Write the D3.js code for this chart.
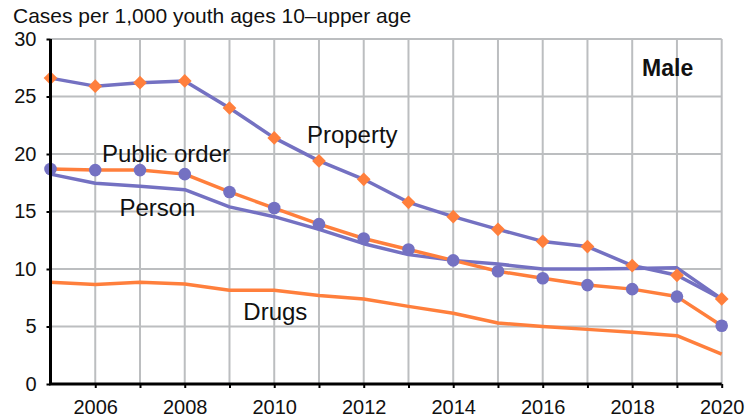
<!DOCTYPE html>
<html>
<head>
<meta charset="utf-8">
<script src="https://cdn.jsdelivr.net/npm/d3@7"></script>
<style>
  html, body { margin: 0; padding: 0; background: #fff; }
  svg { display: block; font-family: "Liberation Sans", Arial, Helvetica, sans-serif; }
</style>
</head>
<body>
<svg id="chart" width="756" height="419"></svg>
<script>
const years = [2005, 2006, 2007, 2008, 2009, 2010, 2011, 2012, 2013, 2014, 2015, 2016, 2017, 2018, 2019, 2020];
const property =    [26.6, 25.9, 26.2, 26.35, 24.0, 21.4, 19.4, 17.8, 15.8, 14.55, 13.45, 12.4, 11.95, 10.3, 9.45, 7.4];
const publicOrder = [18.7, 18.6, 18.6, 18.25, 16.7, 15.3, 13.9, 12.65, 11.7, 10.75, 9.8, 9.2, 8.6, 8.25, 7.6, 5.07];
const person =      [18.25, 17.45, 17.2, 16.9, 15.4, 14.55, 13.45, 12.2, 11.25, 10.75, 10.43, 10.0, 10.0, 10.05, 10.1, 7.4];
const drugs =       [8.85, 8.65, 8.85, 8.7, 8.15, 8.15, 7.7, 7.4, 6.75, 6.15, 5.3, 5.0, 4.75, 4.5, 4.2, 2.6];
const yTicks = [0, 5, 10, 15, 20, 25, 30];
const xTickLabels = [2006, 2008, 2010, 2012, 2014, 2016, 2018, 2020];
const titleText = "Cases per 1,000 youth ages 10\u2013upper age";
const panelLabel = "Male";
const seriesLabels = [
  { text: "Property", year: 2010.73, value: 20.93 },
  { text: "Public order", year: 2006.15, value: 19.33 },
  { text: "Person", year: 2006.54, value: 14.6 },
  { text: "Drugs", year: 2009.31, value: 5.57 }
];

const PURPLE = "#7471c2";
const ORANGE = "#ff7f3c";
const GRID = "#bcbec0";

const svg = d3.select("#chart");
const mLeft = 50.5, mRight = 721.7, mTop = 39, mBottom = 384;
const x = d3.scaleLinear().domain([2005, 2020]).range([mLeft, mRight]);
const y = d3.scaleLinear().domain([0, 30]).range([mBottom, mTop]);

// grid
const g = svg.append("g");
g.selectAll("line.v").data(years.slice(1)).enter().append("line")
  .attr("x1", d => x(d)).attr("x2", d => x(d))
  .attr("y1", y(0)).attr("y2", y(30))
  .attr("stroke", GRID).attr("stroke-width", 2);
g.selectAll("line.h").data(yTicks.slice(1)).enter().append("line")
  .attr("x1", x(2005)).attr("x2", x(2020))
  .attr("y1", d => y(d)).attr("y2", d => y(d))
  .attr("stroke", GRID).attr("stroke-width", 2);

// title
svg.append("text").attr("x", 13).attr("y", 23)
  .attr("font-size", 21).attr("fill", "#111").text(titleText);

// lines
const line = vals => d3.line().x((d, i) => x(years[i])).y(d => y(d))(vals);
const lines = [
  { vals: drugs, color: ORANGE },
  { vals: person, color: PURPLE },
  { vals: publicOrder, color: ORANGE },
  { vals: property, color: PURPLE }
];
svg.selectAll("path.series").data(lines).enter().append("path")
  .attr("d", d => line(d.vals))
  .attr("fill", "none").attr("stroke", d => d.color)
  .attr("stroke-width", 3.5).attr("stroke-linejoin", "round");

// markers
svg.selectAll("circle.po").data(publicOrder).enter().append("circle")
  .attr("cx", (d, i) => x(years[i])).attr("cy", d => y(d))
  .attr("r", 6.3).attr("fill", PURPLE);
const dia = d3.symbol().type(d3.symbolDiamond2).size(120);
svg.selectAll("path.pr").data(property).enter().append("path")
  .attr("d", dia)
  .attr("transform", (d, i) => `translate(${x(years[i])},${y(d)})`)
  .attr("fill", ORANGE);

// axes
const yAxis = svg.append("g").attr("transform", `translate(${mLeft},0)`)
  .call(d3.axisLeft(y).tickValues(yTicks).tickSize(4).tickPadding(10).tickFormat(d3.format("d")));
yAxis.select(".domain").attr("stroke", "#000").attr("stroke-width", 3)
  .attr("d", `M0,${y(30)}V${y(0)}`);
yAxis.selectAll(".tick line").attr("stroke", "#000").attr("stroke-width", 2);
yAxis.selectAll("text").attr("font-size", 20).attr("fill", "#111")
  .attr("font-family", "Liberation Sans, Arial, sans-serif");

const xAxis = svg.append("g").attr("transform", `translate(0,${mBottom})`)
  .call(d3.axisBottom(x).tickValues(years.slice(1)).tickSize(4).tickPadding(12)
    .tickFormat(d => xTickLabels.includes(d) ? String(d) : ""));
xAxis.select(".domain").attr("stroke", "#000").attr("stroke-width", 3)
  .attr("d", `M${mLeft - 1.5},0H${mRight}`);
xAxis.selectAll(".tick line").attr("stroke", "#000").attr("stroke-width", 2);
xAxis.selectAll("text").attr("font-size", 20).attr("fill", "#111")
  .attr("font-family", "Liberation Sans, Arial, sans-serif");

// series labels
svg.selectAll("text.lab").data(seriesLabels).enter().append("text")
  .attr("x", d => x(d.year)).attr("y", d => y(d.value))
  .attr("font-size", 24).attr("fill", "#111").text(d => d.text);

svg.append("text").attr("x", x(2018.22)).attr("y", y(26.8))
  .attr("font-size", 23).attr("font-weight", "bold").attr("fill", "#111").text(panelLabel);
</script>
</body>
</html>
